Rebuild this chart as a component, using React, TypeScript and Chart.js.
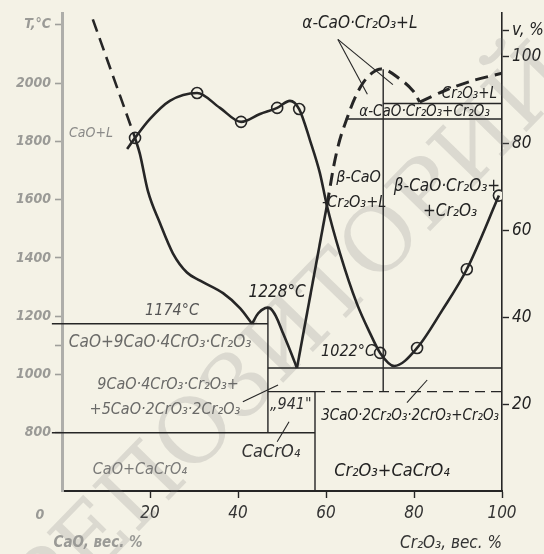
import React, { useEffect, useRef } from "react";
import { Chart, registerables } from "chart.js";
Chart.register(...registerables);

// ---------------- data (x = Cr2O3 wt.%, t = temperature °C) ----------------
const xTickValues = [20, 40, 60, 80, 100];
const tTickValues = [800, 1000, 1100, 1200, 1400, 1600, 1800, 2000, 2200];
const tTickLabels = ["800", "1000", "", "1200", "1400", "1600", "1800", "2000", "T,°C"];
const vTickValues = [20, 40, 60, 80, 100, 106];
const vTickLabels = ["20", "40", "60", "80", "100", "v, %"];

// CaO liquidus, extrapolated (dashed)
const caoDashX = [7.0, 16.6];
const caoDashT = [2219, 1812];

// CaO primary boundary down to the 1174 °C eutectic
const caoLiqX = [16.6, 17.7, 19.5, 22.3, 25.2, 28.4, 31.4, 36.6, 40.5, 43.2];
const caoLiqT = [1812, 1757, 1631, 1518, 1416, 1350, 1322, 1279, 1227, 1174];

// small maximum 1228 °C and branch down to the V
const peakX = [43.2, 44.6, 46.2, 47.4, 48.6, 50.0, 51.8, 53.4];
const peakT = [1174, 1210, 1228, 1226, 1200, 1150, 1084, 1022];

// steep branch from the V bottom (solid part)
const riseX = [53.4, 60.2];
const riseT = [1022, 1580];

// CaO·Cr2O3 liquidus (dashed), maximum and eutectic V
const cc2LiqX = [60.2, 62.5, 64.8, 67.7, 70.5, 73.0, 76.8, 79.8, 81.3];
const cc2LiqT = [1580, 1768, 1880, 1983, 2035, 2048, 2014, 1973, 1935];
const cr2LiqX = [81.3, 86.8, 93.0, 100];
const cr2LiqT = [1935, 1973, 2007, 2034];

// measured curve with points
const measX = [14.8, 16.6, 20.0, 24.5, 30.7, 35.9, 40.7, 45.0, 48.9, 51.8, 53.9, 56.4, 58.6, 60.2, 63.2, 67.0, 70.0, 72.3, 75.5, 80.7, 86.4, 92.0, 99.3];
const measT = [1774, 1812, 1877, 1939, 1966, 1915, 1867, 1894, 1915, 1939, 1911, 1802, 1692, 1580, 1415, 1244, 1142, 1074, 1029, 1091, 1220, 1361, 1614];
const circleX = [16.6, 30.7, 40.7, 48.9, 53.9, 72.3, 80.7, 92.0, 99.3];
const circleT = [1812, 1966, 1867, 1915, 1911, 1074, 1091, 1361, 1614];

// phase-boundary segments: [x1, t1, x2, t2]
const solidSegments: number[][] = [
  [-2.3, 1174, 46.8, 1174],
  [46.8, 1228, 46.8, 800],
  [-2.3, 800, 57.5, 800],
  [46.8, 1022, 100, 1022],
  [46.8, 941, 57.5, 941],
  [57.5, 941, 57.5, 600],
  [73.0, 2048, 73.0, 941],
  [73.0, 1930, 100, 1930],
  [64.5, 1877, 100, 1877],
];
const dashedSegments: number[][] = [[57.5, 941, 100, 941]];
// leader lines / hatch marks
const leaderSegments: number[][] = [
  [62.7, 2150, 69.4, 1962],
  [62.7, 2150, 75.2, 1995],
  [78.4, 903, 83.0, 981],
  [41.1, 906, 49.1, 964],
  [48.9, 769, 51.6, 838],
];

// region labels
const labelTexts = [
  "α-CaO·Cr₂O₃+L",
  "Cr₂O₃+L",
  "α-CaO·Cr₂O₃+Cr₂O₃",
  "CaO+L",
  "β-CaO",
  "-Cr₂O₃+L",
  "β-CaO·Cr₂O₃+",
  "+Cr₂O₃",
  "1174°C",
  "1228°C",
  "1022°C",
  "CaO+9CaO·4CrO₃·Cr₂O₃",
  "9CaO·4CrO₃·Cr₂O₃+",
  "+5CaO·2CrO₃·2Cr₂O₃",
  "„941\"",
  "CaCrO₄",
  "3CaO·2Cr₂O₃·2CrO₃+Cr₂O₃",
  "Cr₂O₃+CaCrO₄",
  "CaO+CaCrO₄",
];
// anchor of each label (data units) and its look
const labelLayout = [
  { x: 67.7, t: 2205, size: 17, color: "#222" },
  { x: 92.6, t: 1962, size: 15, color: "#222" },
  { x: 82.4, t: 1902, size: 15, color: "#222" },
  { x: 6.6, t: 1826, size: 14, color: "#8a8a88" },
  { x: 67.4, t: 1675, size: 16, color: "#222" },
  { x: 66.4, t: 1590, size: 16, color: "#222" },
  { x: 87.5, t: 1644, size: 17, color: "#222" },
  { x: 88.2, t: 1559, size: 17, color: "#222" },
  { x: 25.0, t: 1217, size: 16, color: "#555" },
  { x: 48.9, t: 1282, size: 17, color: "#222" },
  { x: 65.0, t: 1077, size: 16, color: "#222" },
  { x: 22.3, t: 1108, size: 17, color: "#6a6a68" },
  { x: 24.1, t: 964, size: 16, color: "#6a6a68" },
  { x: 23.4, t: 879, size: 16, color: "#6a6a68" },
  { x: 52.0, t: 896, size: 16, color: "#333" },
  { x: 47.5, t: 732, size: 18, color: "#333" },
  { x: 79.1, t: 858, size: 15, color: "#222" },
  { x: 75.0, t: 667, size: 18, color: "#222" },
  { x: 17.7, t: 673, size: 16, color: "#7a7a78" },
];

// ---------------- styling ----------------
const FONT = '"DejaVu Sans Condensed", "Liberation Sans Narrow", "DejaVu Sans", sans-serif';
const INK = "#262626";
const PAPER = "#f4f2e6";

const pts = (xs: number[], ts: number[]) => xs.map((x, i) => ({ x, y: ts[i] }));
const seg = (s: number[]) => [{ x: s[0], y: s[1] }, { x: s[2], y: s[3] }];

const paperPlugin = {
  id: "paper",
  beforeDraw(chart: any) {
    const { ctx, width, height } = chart;
    ctx.save();
    ctx.fillStyle = PAPER;
    ctx.fillRect(0, 0, width, height);
    ctx.restore();
  },
  beforeDatasetsDraw(chart: any) {
    const { ctx } = chart;
    ctx.save();
    ctx.translate(296, 336);
    ctx.rotate(-0.8);
    const word = "РЕПОЗИТОРИЙ";
    ctx.font = '96px "DejaVu Serif", "Liberation Serif", serif';
    const w = ctx.measureText(word).width;
    const size = (96 * 760) / w;
    ctx.font = `${size}px "DejaVu Serif", "Liberation Serif", serif`;
    ctx.fillStyle = "rgba(120,120,120,0.2)";
    ctx.textAlign = "center";
    ctx.textBaseline = "middle";
    ctx.fillText(word, 0, 0);
    ctx.restore();
  },
};

const textPlugin = {
  id: "phaseText",
  afterDatasetsDraw(chart: any) {
    const { ctx, scales, chartArea } = chart;
    const xs = scales.x;
    const ys = scales.y;
    ctx.save();
    ctx.textBaseline = "middle";
    ctx.textAlign = "center";
    labelTexts.forEach((text, i) => {
      const l = labelLayout[i];
      ctx.font = `italic ${l.size}px ${FONT}`;
      ctx.fillStyle = l.color;
      ctx.fillText(text, xs.getPixelForValue(l.x), ys.getPixelForValue(l.t));
    });
    // CaO-side axis notes (faded)
    ctx.fillStyle = "#9a9a96";
    ctx.font = `italic bold 14px ${FONT}`;
    ctx.fillText("0", chartArea.left - 22, chartArea.bottom + 24);
    ctx.font = `italic bold 15px ${FONT}`;
    ctx.fillText("CaO, вес. %", chartArea.left + 36, chartArea.bottom + 52);
    ctx.restore();
  },
};

export default function App() {
  const ref = useRef<HTMLCanvasElement | null>(null);

  useEffect(() => {
    if (!ref.current) return;
    const thick = { showLine: true, pointRadius: 0, borderColor: INK, borderWidth: 2.6, fill: false };
    const thin = { showLine: true, pointRadius: 0, borderColor: INK, borderWidth: 1.4, fill: false };
    const datasets: any[] = [
      { ...thick, data: pts(caoDashX, caoDashT), borderDash: [13, 7] },
      { ...thick, data: pts(caoLiqX, caoLiqT), cubicInterpolationMode: "monotone" },
      { ...thick, data: pts(peakX, peakT), tension: 0.35 },
      { ...thick, data: pts(riseX, riseT) },
      { ...thick, data: pts(cc2LiqX, cc2LiqT), borderDash: [13, 7], tension: 0.4, borderWidth: 3 },
      { ...thick, data: pts(cr2LiqX, cr2LiqT), borderDash: [13, 7], tension: 0.3, borderWidth: 3 },
      { ...thick, data: pts(measX, measT), cubicInterpolationMode: "monotone" },
      ...solidSegments.map((s) => ({ ...thin, data: seg(s), clip: false })),
      ...dashedSegments.map((s) => ({ ...thin, data: seg(s), borderDash: [10, 6] })),
      ...leaderSegments.map((s) => ({ ...thin, borderWidth: 1.1, data: seg(s) })),
      {
        data: pts(circleX, circleT),
        showLine: false,
        pointRadius: 5.5,
        pointBackgroundColor: PAPER,
        pointBorderColor: INK,
        pointBorderWidth: 1.6,
      },
    ];

    const chart = new Chart(ref.current, {
      type: "scatter",
      data: { datasets },
      options: {
        animation: false,
        responsive: false,
        maintainAspectRatio: false,
        events: [],
        layout: { padding: { top: 13, left: 0, right: 0, bottom: 0 } },
        plugins: { legend: { display: false }, tooltip: { enabled: false } },
        scales: {
          x: {
            type: "linear",
            min: 0,
            max: 100,
            afterBuildTicks: (s: any) => {
              s.ticks = xTickValues.map((v) => ({ value: v }));
            },
            afterFit: (s: any) => {
              s.height = 63;
            },
            ticks: {
              padding: 5,
              color: "#333",
              font: { family: FONT, size: 17, style: "italic" },
            },
            grid: { drawOnChartArea: false, tickLength: 7, color: INK, tickWidth: 1.4 },
            border: { color: INK, width: 2 },
            title: {
              display: true,
              text: "Cr₂O₃, вес. %",
              align: "end",
              color: "#333",
              font: { family: FONT, size: 17, style: "italic" },
              padding: 0,
            },
          },
          y: {
            type: "linear",
            position: "left",
            min: 600,
            max: 2240,
            afterBuildTicks: (s: any) => {
              s.ticks = tTickValues.map((v) => ({ value: v }));
            },
            afterFit: (s: any) => {
              s.width = 62;
            },
            ticks: {
              padding: 4,
              color: "#9a9a96",
              font: { family: FONT, size: 14, style: "italic", weight: "bold" },
              callback: (_v: any, i: number) => tTickLabels[i],
            },
            grid: { drawOnChartArea: false, tickLength: 7, color: "#9f9f9b", tickWidth: 1.6 },
            border: { color: "#aeaeaa", width: 3 },
          },
          y2: {
            type: "linear",
            position: "right",
            min: 0,
            max: 110,
            afterBuildTicks: (s: any) => {
              s.ticks = vTickValues.map((v) => ({ value: v }));
            },
            afterFit: (s: any) => {
              s.width = 42;
            },
            ticks: {
              padding: 3,
              color: "#222",
              font: { family: FONT, size: 17, style: "italic" },
              callback: (_v: any, i: number) => vTickLabels[i],
            },
            grid: { drawOnChartArea: false, tickLength: 7, color: INK, tickWidth: 1.4 },
            border: { color: INK, width: 1.6 },
          },
        },
      },
      plugins: [paperPlugin, textPlugin],
    } as any);
    return () => chart.destroy();
  }, []);

  return (
    <div style={{ position: "fixed", left: 0, top: 0, width: 544, height: 554, background: PAPER }}>
      <canvas ref={ref} width={544} height={554} style={{ display: "block" }} />
    </div>
  );
}
